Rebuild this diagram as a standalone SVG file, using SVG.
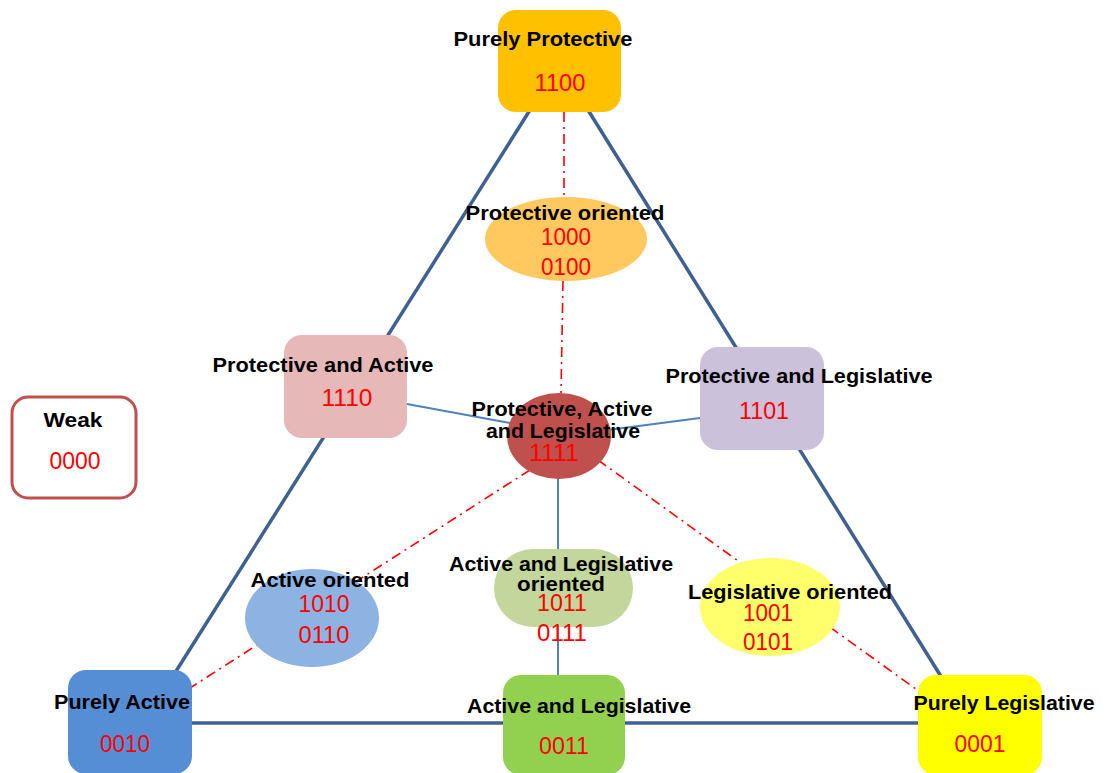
<svg xmlns="http://www.w3.org/2000/svg" width="1106" height="773" viewBox="0 0 1106 773">
  <style>
    .title { font-family: "Liberation Sans", Arial, sans-serif; font-weight: bold; font-size: 21px; fill: #000; text-anchor: middle; }
    .code { font-family: "Liberation Sans", Arial, sans-serif; font-size: 23.5px; fill: #FF0000; text-anchor: middle; }
    .edge { stroke: #3F6190; stroke-width: 3.5; fill: none; }
    .link { stroke: #4F81BD; stroke-width: 2; fill: none; }
    .dash { stroke: #FF0000; stroke-width: 1.6; fill: none; stroke-dasharray: 10 5 2 5; }
  </style>
  <rect width="1106" height="773" fill="#FFFFFF"/>

  <!-- connectors -->
  <g id="connectors">
    <line class="edge" x1="530" y1="110" x2="173" y2="676"/>
    <line class="edge" x1="588" y1="110" x2="942" y2="678"/>
    <line class="edge" x1="190" y1="723" x2="920" y2="723"/>
    <line class="link" x1="407" y1="404" x2="510" y2="423"/>
    <line class="link" x1="608" y1="430" x2="700" y2="418"/>
    <line class="link" x1="558" y1="478" x2="558" y2="675"/>
    <line class="dash" x1="564" y1="112" x2="564" y2="197"/>
    <line class="dash" x1="563" y1="281" x2="561" y2="393"/>
    <line class="dash" x1="530" y1="470" x2="190" y2="688"/>
    <line class="dash" x1="598" y1="460" x2="920" y2="692"/>
  </g>

  <g id="purely-protective">
    <rect x="498" y="10" width="123" height="102" rx="18" fill="#FFC000"/>
    <text class="title" x="543" y="46" textLength="179" lengthAdjust="spacingAndGlyphs">Purely Protective</text>
    <text class="code" x="560" y="91" textLength="51" lengthAdjust="spacingAndGlyphs">1100</text>
  </g>

  <g id="protective-oriented">
    <ellipse cx="566" cy="239" rx="81" ry="42" fill="#FFC960"/>
    <text class="title" x="565" y="220" textLength="199" lengthAdjust="spacingAndGlyphs">Protective oriented</text>
    <text class="code" x="566" y="245" textLength="50" lengthAdjust="spacingAndGlyphs">1000</text>
    <text class="code" x="566" y="275" textLength="50" lengthAdjust="spacingAndGlyphs">0100</text>
  </g>

  <g id="protective-active">
    <rect x="284" y="335" width="123" height="103" rx="18" fill="#E6B9B8"/>
    <text class="title" x="323" y="372" textLength="221" lengthAdjust="spacingAndGlyphs">Protective and Active</text>
    <text class="code" x="347" y="406" textLength="51" lengthAdjust="spacingAndGlyphs">1110</text>
  </g>

  <g id="protective-legislative">
    <rect x="700" y="347" width="124" height="103" rx="18" fill="#CCC1DA"/>
    <text class="title" x="799" y="383" textLength="267" lengthAdjust="spacingAndGlyphs">Protective and Legislative</text>
    <text class="code" x="764" y="419" textLength="50" lengthAdjust="spacingAndGlyphs">1101</text>
  </g>

  <g id="all-three">
    <ellipse cx="559" cy="436" rx="52" ry="43" fill="#C0504D"/>
    <text class="title" x="562" y="416" textLength="181" lengthAdjust="spacingAndGlyphs">Protective, Active</text>
    <text class="title" x="563" y="438" textLength="154" lengthAdjust="spacingAndGlyphs">and Legislative</text>
    <text class="code" x="554" y="461" textLength="50" lengthAdjust="spacingAndGlyphs">1111</text>
  </g>

  <g id="weak">
    <rect x="12" y="397" width="124" height="101" rx="16" fill="#FFFFFF" stroke="#C0504D" stroke-width="3"/>
    <text class="title" x="73" y="427" textLength="59" lengthAdjust="spacingAndGlyphs">Weak</text>
    <text class="code" x="75" y="469" textLength="51" lengthAdjust="spacingAndGlyphs">0000</text>
  </g>

  <g id="active-oriented">
    <ellipse cx="312" cy="618" rx="67" ry="49" fill="#8DB3E2"/>
    <text class="title" x="330" y="587" textLength="159" lengthAdjust="spacingAndGlyphs">Active oriented</text>
    <text class="code" x="324" y="612" textLength="51" lengthAdjust="spacingAndGlyphs">1010</text>
    <text class="code" x="324" y="643" textLength="51" lengthAdjust="spacingAndGlyphs">0110</text>
  </g>

  <g id="active-legislative-oriented">
    <rect x="494" y="549" width="139" height="78" rx="39" fill="#C3D69B"/>
    <text class="title" x="561" y="571" textLength="224" lengthAdjust="spacingAndGlyphs">Active and Legislative</text>
    <text class="title" x="561" y="591" textLength="88" lengthAdjust="spacingAndGlyphs">oriented</text>
    <text class="code" x="562" y="611" textLength="50" lengthAdjust="spacingAndGlyphs">1011</text>
    <text class="code" x="562" y="641" textLength="50" lengthAdjust="spacingAndGlyphs">0111</text>
  </g>

  <g id="legislative-oriented">
    <ellipse cx="770" cy="607" rx="70" ry="49" fill="#FFFF6B"/>
    <text class="title" x="790" y="599" textLength="204" lengthAdjust="spacingAndGlyphs">Legislative oriented</text>
    <text class="code" x="768" y="621" textLength="50" lengthAdjust="spacingAndGlyphs">1001</text>
    <text class="code" x="768" y="650" textLength="50" lengthAdjust="spacingAndGlyphs">0101</text>
  </g>

  <g id="purely-active">
    <rect x="68" y="670" width="124" height="104" rx="18" fill="#558ED5"/>
    <text class="title" x="122" y="709" textLength="136" lengthAdjust="spacingAndGlyphs">Purely Active</text>
    <text class="code" x="125" y="752" textLength="50" lengthAdjust="spacingAndGlyphs">0010</text>
  </g>

  <g id="active-legislative">
    <rect x="503" y="675" width="122" height="100" rx="18" fill="#92D050"/>
    <text class="title" x="579" y="713" textLength="224" lengthAdjust="spacingAndGlyphs">Active and Legislative</text>
    <text class="code" x="564" y="754" textLength="50" lengthAdjust="spacingAndGlyphs">0011</text>
  </g>

  <g id="purely-legislative">
    <rect x="918" y="675" width="124" height="100" rx="18" fill="#FFFF00"/>
    <text class="title" x="1004" y="710" textLength="181" lengthAdjust="spacingAndGlyphs">Purely Legislative</text>
    <text class="code" x="980" y="752" textLength="51" lengthAdjust="spacingAndGlyphs">0001</text>
  </g>
</svg>
